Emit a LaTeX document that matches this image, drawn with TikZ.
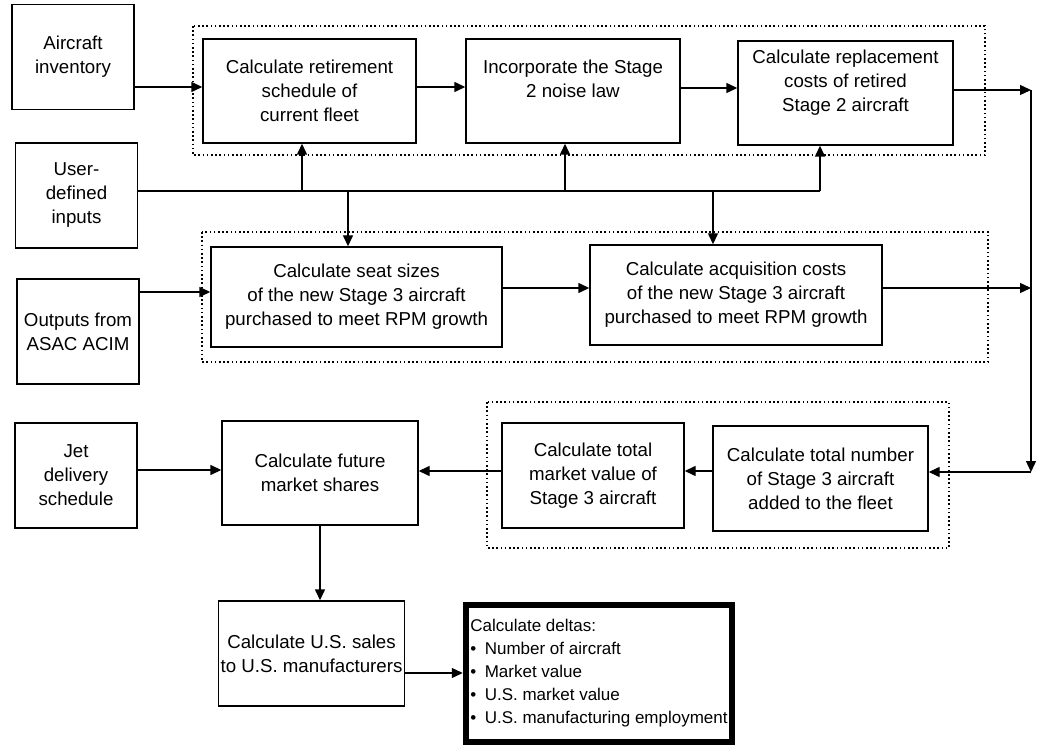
\documentclass[tikz,border=0pt]{standalone}
\usepackage{fontspec}
\setmainfont{Liberation Sans}
\usetikzlibrary{arrows.meta}
\tikzstyle{inputbox} = [rectangle, draw=black, line width=1.4pt, minimum width=122pt, minimum height=105pt, align=center, inner sep=2pt, font=\fontsize{18.7}{24}\selectfont]
\tikzstyle{calcbox} = [rectangle, draw=black, line width=1.4pt, align=center, inner sep=2pt, font=\fontsize{18.7}{24}\selectfont]
\tikzstyle{resultbox} = [rectangle, draw=black, line width=6.5pt, minimum width=266pt, minimum height=137pt, align=left, inner sep=0pt, font=\fontsize{17}{23}\selectfont]
\tikzstyle{grouping} = [draw=black, line width=1.6pt, dash pattern=on 1.6pt off 2.6pt]

\begin{document}
\begin{tikzpicture}[x=1pt, y=-1pt, line width=1.4pt, >={Triangle[length=11pt,width=10pt]}]
        \useasboundingbox (0,0) rectangle (1042,751);

        \draw[grouping] (193,26) rectangle (985,155);
        \draw[grouping] (202,232) rectangle (988,362);
        \draw[grouping] (487,402) rectangle (949,548);

        \node (inventory) [inputbox] at (73,57) {Aircraft\\inventory};
        \node (userin) [inputbox] at (76.5,195.5) {User-\\defined\\inputs};
        \node (asac) [inputbox] at (78,331.5) {Outputs from\\ASAC ACIM};
        \node (jet) [inputbox] at (76,475.5) {Jet\\delivery\\schedule};

        \node (retire) [calcbox, minimum width=213pt, minimum height=104pt] at (309.5,91) {Calculate retirement\\schedule of\\current fleet};
        \node (noise) [calcbox, minimum width=214pt, minimum height=104pt] at (573,91) {Incorporate the Stage\\2 noise law\\\mbox{}};
        \node (replace) [calcbox, minimum width=215pt, minimum height=104pt] at (845.5,93) {Calculate replacement\\costs of retired\\Stage 2 aircraft\\\mbox{}};

        \node (seat) [calcbox, minimum width=291pt, minimum height=100pt] at (356.5,297) {Calculate seat sizes\\of the new Stage 3 aircraft\\purchased to meet RPM growth};
        \node (acq) [calcbox, minimum width=292pt, minimum height=100pt] at (736,295) {Calculate acquisition costs\\of the new Stage 3 aircraft\\purchased to meet RPM growth};

        \node (future) [calcbox, minimum width=196pt, minimum height=104pt] at (320,473) {Calculate future\\market shares};
        \node (mvalue) [calcbox, minimum width=182pt, minimum height=105pt] at (593,475.5) {Calculate total\\market value of\\Stage 3 aircraft};
        \node (number) [calcbox, minimum width=215pt, minimum height=105pt] at (820.5,478.5) {Calculate total number\\of Stage 3 aircraft\\added to the fleet};

        \node (ussales) [calcbox, minimum width=183pt, minimum height=105pt] at (311.5,653.5) {Calculate U.S. sales\\to U.S. manufacturers};
        \node (deltas) [resultbox] at (599,673.5) {Calculate deltas:\\•\hspace{0.5em}Number of aircraft\\•\hspace{0.5em}Market value\\•\hspace{0.5em}U.S. market value\\•\hspace{0.5em}U.S. manufacturing employment};

        \coordinate (railtop) at (1031,90);
        \coordinate (railmid) at (1031,288);
        \coordinate (railbot) at (1031,472);

        \coordinate (t1) at (302,191);
        \coordinate (t2) at (348,191);
        \coordinate (t3) at (565,191);
        \coordinate (t4) at (713,191);
        \coordinate (t5) at (820,191);

        \draw[->] (inventory.east |- 0,87) -- (retire.west |- 0,87);
        \draw[->] (retire.east |- 0,87) -- (noise.west |- 0,87);
        \draw[->] (noise.east |- 0,88) -- (replace.west |- 0,88);
        \draw[->] (replace.east |- railtop) -- (railtop);

        \draw (userin.east |- t1) -- (t5);
        \draw[->] (t1) -- (t1 |- retire.south);
        \draw[->] (t3) -- (t3 |- noise.south);
        \draw[->] (t5) -- (t5 |- replace.south);
        \draw[->] (t2) -- (t2 |- seat.north);
        \draw[->] (t4) -- (t4 |- acq.north);

        \draw[->] (asac.east |- 0,292) -- (seat.west |- 0,292);
        \draw[->] (seat.east |- railmid) -- (acq.west |- railmid);
        \draw[->] (acq.east |- railmid) -- (railmid);

        \draw[->] (railtop) -- (railbot);
        \draw[->] (railbot) -- (number.east |- railbot);
        \draw[->] (number.west |- 0,471) -- (mvalue.east |- 0,471);
        \draw[->] (mvalue.west |- 0,471) -- (future.east |- 0,471);
        \draw[->] (jet.east |- 0,470) -- (future.west |- 0,470);

        \draw[->] (future.south) -- (future.south |- ussales.north);
        \draw[->] (ussales.east |- 0,673) -- (deltas.west |- 0,673);

    \end{tikzpicture}
\end{document}
